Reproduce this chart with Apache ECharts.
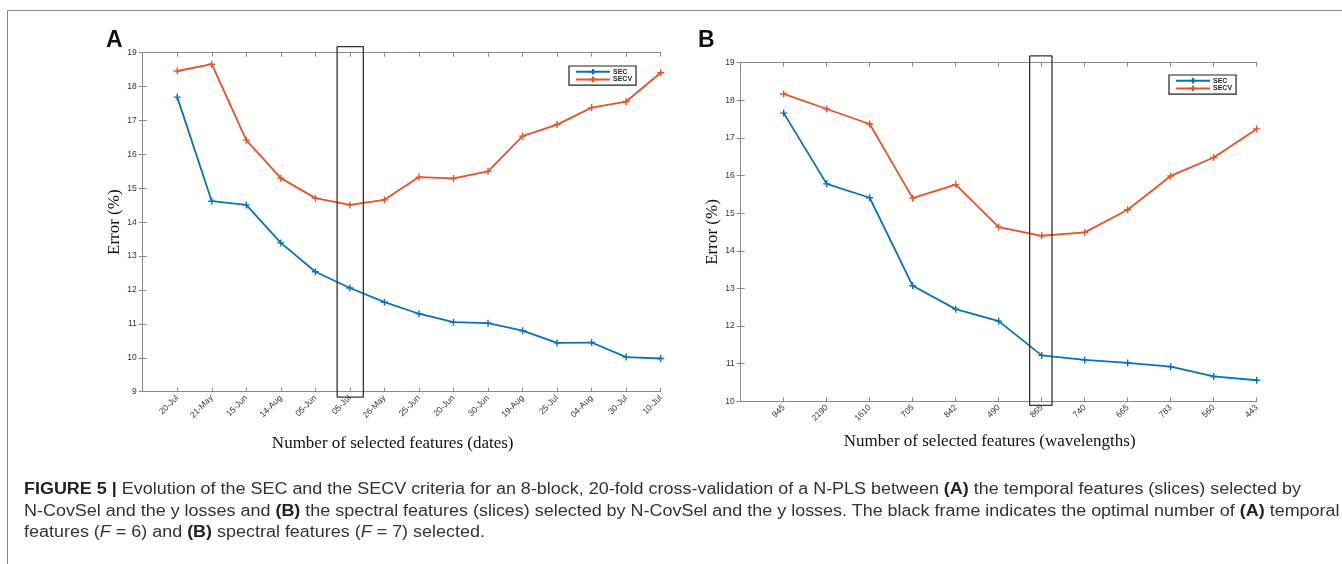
<!DOCTYPE html>
<html>
<head>
<meta charset="utf-8">
<script src="https://cdn.jsdelivr.net/npm/echarts@6/dist/echarts.min.js"></script>
<style>
  html, body { margin: 0; padding: 0; background: #fff; }
  #wrap { position: relative; width: 1342px; height: 564px; overflow: hidden; }
  #frame { position: absolute; left: 7px; top: 10px; width: 1340px; height: 560px;
           border-top: 1px solid #888; border-left: 1px solid #888; }
  #chart { position: absolute; left: 0; top: 0; width: 1342px; height: 564px; }
  #caption { position: absolute; left: 24px; top: 478px;
             font-family: "Liberation Sans", Arial, sans-serif;
             font-size: 16px; line-height: 21.5px; color: #333; white-space: nowrap;
             transform-origin: 0 0; }
  #caption .ln { display: block; width: max-content; }
  #caption b { font-weight: bold; color: #222; }
</style>
</head>
<body>
<div id="wrap">
  <div id="frame"></div>
  <div id="chart"></div>
  <div id="caption">
    <span class="ln" id="cap1"><b>FIGURE 5 |</b> Evolution of the SEC and the SECV criteria for an 8-block, 20-fold cross-validation of a N-PLS between <b>(A)</b> the temporal features (slices) selected by</span>
    <span class="ln">N-CovSel and the y losses and <b>(B)</b> the spectral features (slices) selected by N-CovSel and the y losses. The black frame indicates the optimal number of <b>(A)</b> temporal</span>
    <span class="ln">features (<i>F</i> = 6) and <b>(B)</b> spectral features (<i>F</i> = 7) selected.</span>
  </div>
</div>
<script>
// Panel A: temporal features (dates), in selection order
const datesA = ['20-Jul','21-May','15-Jun','14-Aug','05-Jun','05-Jul','26-May','25-Jun','20-Jun','30-Jun','19-Aug','25-Jul','04-Aug','30-Jul','10-Jul'];
const secA   = [17.69, 14.62, 14.51, 13.39, 12.54, 12.06, 11.64, 11.30, 11.05, 11.02, 10.80, 10.44, 10.45, 10.02, 9.98];
const secvA  = [18.46, 18.66, 16.42, 15.30, 14.71, 14.51, 14.66, 15.33, 15.29, 15.50, 16.54, 16.88, 17.38, 17.56, 18.41];
const optimalA = 6;

// Panel B: spectral features (wavelengths, nm), in selection order
const wavesB = ['945','2190','1610','705','842','490','865','740','665','783','560','443'];
const secB   = [17.66, 15.78, 15.41, 13.07, 12.45, 12.13, 11.22, 11.10, 11.02, 10.92, 10.66, 10.56];
const secvB  = [18.17, 17.77, 17.37, 15.40, 15.76, 14.63, 14.40, 14.49, 15.09, 15.99, 16.48, 17.24];
const optimalB = 7;

const yTicksA = [9, 19];
const yTicksB = [10, 19];

const BLUE = '#0a72b8';
const ORANGE = '#e5532a';
const AXIS = '#8a8a8a';
const PLUS = 'path://M0,5L10,5M5,0L5,10';

// fit the caption so its first line spans the figure width
(function fitCaption() {
  const cap = document.getElementById('caption');
  const w = document.getElementById('cap1').getBoundingClientRect().width;
  cap.style.transform = 'scaleX(' + (1277 / w) + ')';
})();

const toPairs = arr => arr.map((v, i) => [i + 1, v]);

// rectangle outline around the optimal feature, in data units
function frameOutline(center, halfW, yLo, yHi) {
  const x0 = center - halfW, x1 = center + halfW;
  return [[x0, yHi], [x1, yHi], [x1, yLo], [x0, yLo], [x0, yHi]];
}

function bottomX(gridIndex, cats, title, gap) {
  return {
    type: 'value', gridIndex, min: 0, max: cats.length, interval: 1, position: 'bottom',
    axisLine: { lineStyle: { color: AXIS, width: 1 } },
    axisTick: { inside: true, length: 4, lineStyle: { color: AXIS } },
    splitLine: { show: false },
    axisLabel: {
      rotate: 45, margin: 5, fontSize: 8.5, color: '#333', fontFamily: 'Arial, Liberation Sans',
      showMinLabel: false, showMaxLabel: true,
      formatter: v => cats[v - 1] || ''
    },
    name: title, nameLocation: 'middle', nameGap: gap,
    nameTextStyle: { fontFamily: 'Liberation Serif', fontSize: 17, color: '#111', padding: [0, 18, 0, 0] }
  };
}
function topX(gridIndex, n) {
  return {
    type: 'value', gridIndex, min: 0, max: n, interval: 1, position: 'top',
    axisLine: { lineStyle: { color: AXIS, width: 1 } },
    axisTick: { inside: true, length: 4, lineStyle: { color: AXIS } },
    axisLabel: { show: false }, splitLine: { show: false }
  };
}
function leftY(gridIndex, range) {
  return {
    type: 'value', gridIndex, min: range[0], max: range[1], interval: 1, position: 'left',
    axisLine: { show: true, lineStyle: { color: AXIS, width: 1 } },
    axisTick: { show: true, inside: true, length: 4, lineStyle: { color: AXIS } },
    splitLine: { show: false },
    axisLabel: { margin: 6, fontSize: 8.5, color: '#333', fontFamily: 'Arial, Liberation Sans' },
    name: 'Error (%)', nameLocation: 'middle', nameGap: 16,
    nameTextStyle: { fontFamily: 'Liberation Serif', fontSize: 17, color: '#111' }
  };
}
function rightY(gridIndex, range) {
  return {
    type: 'value', gridIndex, min: range[0], max: range[1], interval: 1, position: 'right',
    axisLine: { show: true, lineStyle: { color: AXIS, width: 1 } },
    axisTick: { show: true, inside: true, length: 4, lineStyle: { color: AXIS } },
    axisLabel: { show: false }, splitLine: { show: false }
  };
}
function curve(name, color, xi, yi, values) {
  return {
    name, type: 'line', xAxisIndex: xi, yAxisIndex: yi, data: toPairs(values),
    symbol: PLUS, symbolSize: 7, showSymbol: true,
    lineStyle: { color, width: 1.8 },
    itemStyle: { color, borderColor: color, borderWidth: 1.4 },
    emphasis: { disabled: true }, z: 3
  };
}
function box(xi, yi, pts) {
  return {
    name: 'optimum', type: 'line', xAxisIndex: xi, yAxisIndex: yi, data: pts,
    clip: false, symbol: 'none', silent: true,
    lineStyle: { color: '#333', width: 1.3 }, z: 4
  };
}
function legendAt(left, top) {
  return {
    left, top, orient: 'vertical', data: ['SEC', 'SECV'], selectedMode: false,
    backgroundColor: '#fff', borderColor: '#222', borderWidth: 1.2, padding: [2, 4, 2, 6],
    itemGap: 0, itemWidth: 34, itemHeight: 7,
    textStyle: { fontSize: 7, fontWeight: 'bold', color: '#222', fontFamily: 'Arial, Liberation Sans', padding: [0, 0, 0, -2] }
  };
}

const chart = echarts.init(document.getElementById('chart'), null, { renderer: 'canvas' });
chart.setOption({
  animation: false,
  backgroundColor: 'transparent',
  title: [
    { text: 'A', left: 101, top: 24, textStyle: { fontSize: 23, fontWeight: 'bold', color: '#111', fontFamily: 'Arial, Liberation Sans' } },
    { text: 'B', left: 693, top: 24, textStyle: { fontSize: 23, fontWeight: 'bold', color: '#111', fontFamily: 'Arial, Liberation Sans' } }
  ],
  legend: [legendAt(569, 66), legendAt(1169, 75)],
  grid: [
    { left: 142.7, right: 1342 - 660.7, top: 52.7, bottom: 564 - 391.7 },
    { left: 740.7, right: 1342 - 1256.7, top: 62.7, bottom: 564 - 401.3 }
  ],
  xAxis: [
    bottomX(0, datesA, 'Number of selected features (dates)', 43),
    topX(0, datesA.length),
    bottomX(1, wavesB, 'Number of selected features (wavelengths)', 32),
    topX(1, wavesB.length)
  ],
  yAxis: [
    leftY(0, yTicksA), rightY(0, yTicksA),
    leftY(1, yTicksB), rightY(1, yTicksB)
  ],
  series: [
    curve('SEC', BLUE, 0, 0, secA),
    curve('SECV', ORANGE, 0, 0, secvA),
    box(0, 0, frameOutline(optimalA + 0.01, 0.38, 8.84, 19.18)),
    curve('SEC', BLUE, 2, 2, secB),
    curve('SECV', ORANGE, 2, 2, secvB),
    box(2, 2, frameOutline(optimalB - 0.02, 0.26, 9.89, 19.18))
  ]
});
</script>
</body>
</html>
